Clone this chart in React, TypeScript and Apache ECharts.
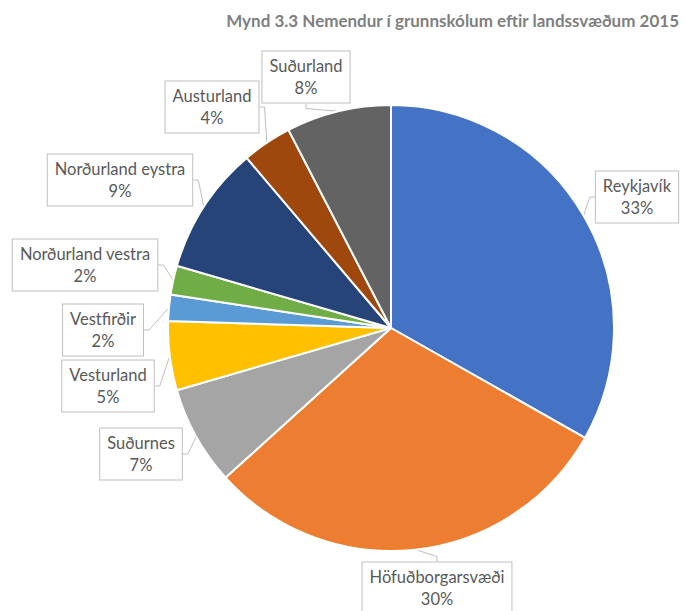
import React, { useEffect, useRef } from "react";
import * as echarts from "echarts";

const titleText = "Mynd 3.3 Nemendur í grunnskólum eftir landssvæðum 2015";
const regions = [
  "Reykjavík",
  "Höfuðborgarsvæði",
  "Suðurnes",
  "Vesturland",
  "Vestfirðir",
  "Norðurland vestra",
  "Norðurland eystra",
  "Austurland",
  "Suðurland",
];
const shares = [33.2, 30.1, 7.2, 5.0, 1.9, 2.1, 9.3, 3.6, 7.6];
const colors = [
  "#4472C4",
  "#ED7D31",
  "#A5A5A5",
  "#FFC000",
  "#5B9BD5",
  "#70AD47",
  "#264478",
  "#9E480E",
  "#636363",
];
// label box centres (layout only)
const labelPos: [number, number][] = [
  [637, 197],
  [437, 588],
  [141, 454],
  [108, 386],
  [103, 330],
  [85, 265],
  [120, 180],
  [212, 107],
  [306, 77],
];

export default function App() {
  const ref = useRef<HTMLDivElement>(null);
  useEffect(() => {
    if (!ref.current) return;
    const chart = echarts.init(ref.current, null, { renderer: "svg" });
    const total = shares.reduce((a, b) => a + b, 0);
    chart.setOption({
      animation: false,
      backgroundColor: "#ffffff",
      graphic: [
        {
          type: "text",
          x: 679,
          y: 20,
          style: {
            text: titleText,
            align: "right",
            verticalAlign: "middle",
            fontFamily: "Lato",
            fontWeight: "bold",
            fontSize: 17,
            fill: "#7f7f7f",
          },
        },
      ],
      series: [
        {
          type: "pie",
          center: [391, 328],
          radius: 223,
          startAngle: 90,
          clockwise: true,
          avoidLabelOverlap: false,
          data: regions.map((name, i) => ({
            name,
            value: shares[i],
            itemStyle: { color: colors[i] },
          })),
          itemStyle: { borderColor: "#ffffff", borderWidth: 2 },
          label: {
            show: true,
            position: "outside",
            formatter: (p: any) =>
              `${p.name}\n${Math.round((p.value / total) * 100)}%`,
            fontFamily: "Lato",
            fontSize: 16.5,
            lineHeight: 22,
            color: "#595959",
            align: "center",
            backgroundColor: "#ffffff",
            borderColor: "#bfbfbf",
            borderWidth: 1,
            padding: [4, 7, 3, 7],
          },
          labelLine: {
            show: true,
            length: 10,
            length2: 5,
            lineStyle: { color: "#bfbfbf", width: 1 },
          },
          labelLayout: (params: any) => {
            const [x, y] = labelPos[params.dataIndex];
            return { x, y, align: "center", verticalAlign: "middle" };
          },
        },
      ],
    });
    return () => chart.dispose();
  }, []);
  return (
    <div
      ref={ref}
      style={{ position: "fixed", left: 0, top: 0, width: 683, height: 611 }}
    />
  );
}
